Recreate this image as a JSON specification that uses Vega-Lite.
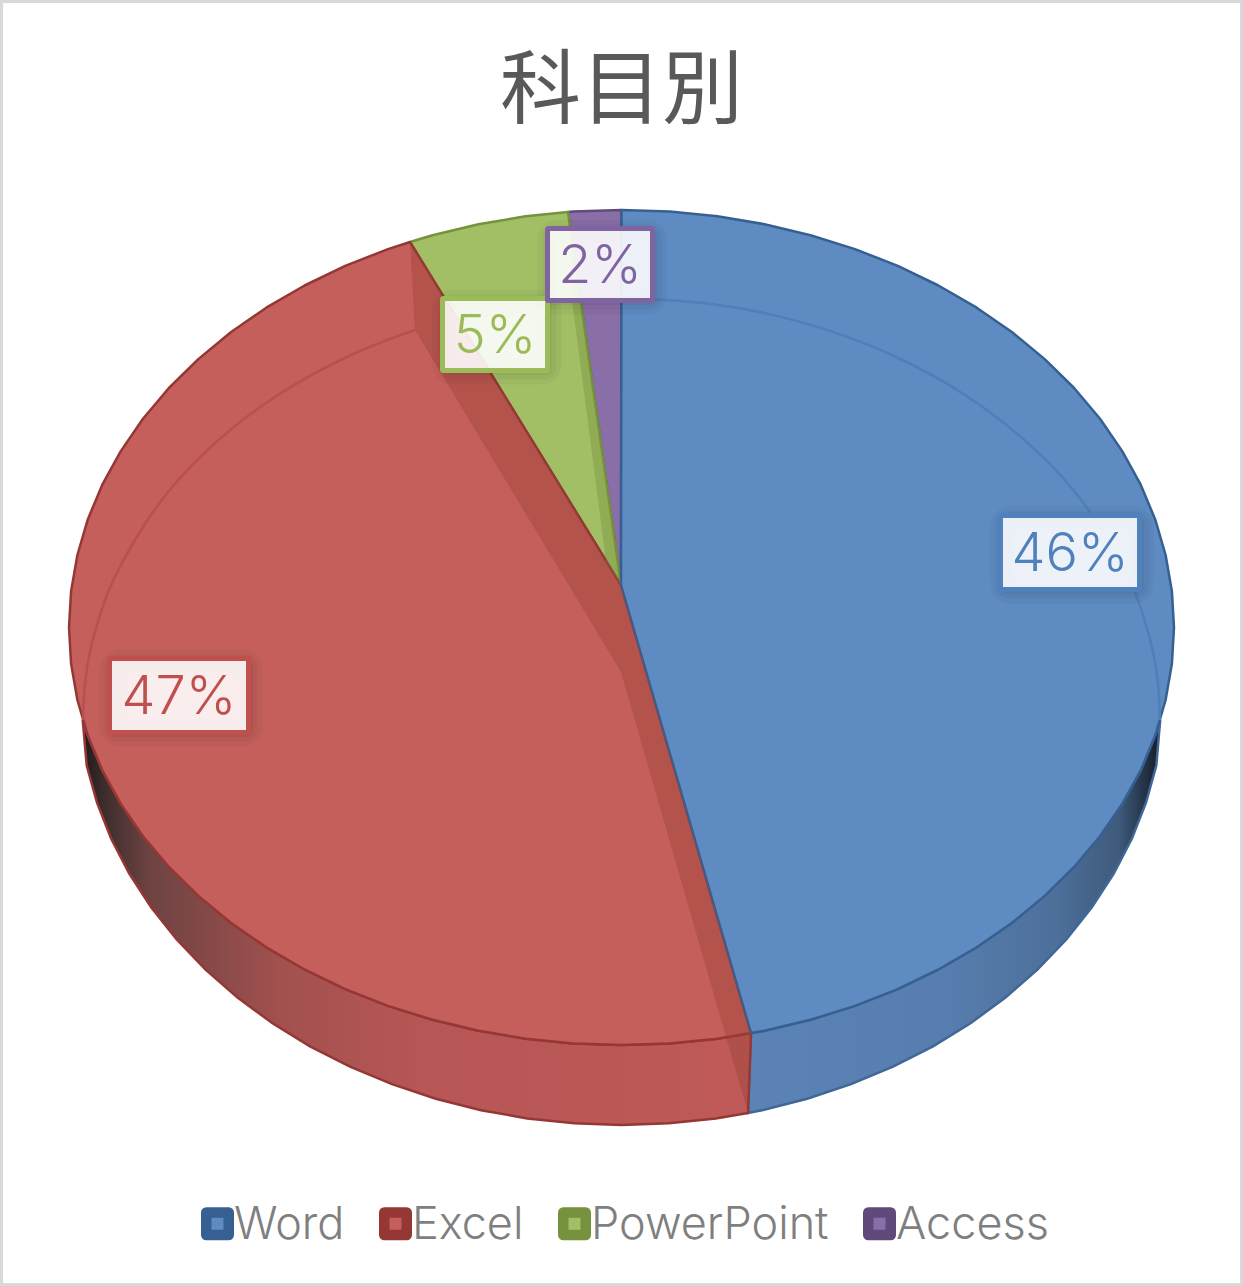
{
  "$schema": "https://vega.github.io/schema/vega-lite/v6.json",
  "width": 1243,
  "height": 1286,
  "autosize": {"type": "none"},
  "padding": 0,
  "background": "white",
  "title": {"text": "科目別", "font": "Noto Sans CJK JP", "fontSize": 81, "fontWeight": 400, "color": "#595959", "anchor": "middle", "baseline": "alphabetic", "offset": -198},
  "datasets": {
    "top": [
      {"subject":"Access","i":0,"x":621,"y":585},{"subject":"Access","i":1,"x":568,"y":212},{"subject":"Access","i":2,"x":573.3,"y":211.6},{"subject":"Access","i":3,"x":621.5,"y":210},
      {"subject":"PowerPoint","i":0,"x":621,"y":585},{"subject":"PowerPoint","i":1,"x":410,"y":242},{"subject":"PowerPoint","i":2,"x":432.5,"y":235.2},{"subject":"PowerPoint","i":3,"x":478.5,"y":224.2},{"subject":"PowerPoint","i":4,"x":525.6,"y":216.3},{"subject":"PowerPoint","i":5,"x":568,"y":212},
      {"subject":"Excel","i":0,"x":621,"y":585},{"subject":"Excel","i":1,"x":751,"y":1033},{"subject":"Excel","i":2,"x":717.4,"y":1038.7},{"subject":"Excel","i":3,"x":669.7,"y":1043.4},{"subject":"Excel","i":4,"x":621.5,"y":1045},{"subject":"Excel","i":5,"x":573.3,"y":1043.4},{"subject":"Excel","i":6,"x":525.6,"y":1038.7},{"subject":"Excel","i":7,"x":478.5,"y":1030.8},{"subject":"Excel","i":8,"x":432.5,"y":1019.8},{"subject":"Excel","i":9,"x":388,"y":1005.9},{"subject":"Excel","i":10,"x":345.2,"y":989.1},{"subject":"Excel","i":11,"x":304.6,"y":969.5},{"subject":"Excel","i":12,"x":266.3,"y":947.3},{"subject":"Excel","i":13,"x":230.8,"y":922.7},{"subject":"Excel","i":14,"x":198.3,"y":895.9},{"subject":"Excel","i":15,"x":168.9,"y":867},{"subject":"Excel","i":16,"x":143,"y":836.3},{"subject":"Excel","i":17,"x":120.8,"y":803.9},{"subject":"Excel","i":18,"x":102.3,"y":770.3},{"subject":"Excel","i":19,"x":87.8,"y":735.6},{"subject":"Excel","i":20,"x":77.4,"y":700},{"subject":"Excel","i":21,"x":71.1,"y":663.9},{"subject":"Excel","i":22,"x":69,"y":627.5},{"subject":"Excel","i":23,"x":71.1,"y":591.1},{"subject":"Excel","i":24,"x":77.4,"y":555},{"subject":"Excel","i":25,"x":87.8,"y":519.4},{"subject":"Excel","i":26,"x":102.3,"y":484.7},{"subject":"Excel","i":27,"x":120.8,"y":451.1},{"subject":"Excel","i":28,"x":143,"y":418.7},{"subject":"Excel","i":29,"x":168.9,"y":388},{"subject":"Excel","i":30,"x":198.3,"y":359.1},{"subject":"Excel","i":31,"x":230.8,"y":332.3},{"subject":"Excel","i":32,"x":266.3,"y":307.7},{"subject":"Excel","i":33,"x":304.6,"y":285.5},{"subject":"Excel","i":34,"x":345.2,"y":265.9},{"subject":"Excel","i":35,"x":388,"y":249.1},{"subject":"Excel","i":36,"x":410,"y":242},
      {"subject":"Word","i":0,"x":621,"y":585},{"subject":"Word","i":1,"x":621.5,"y":210},{"subject":"Word","i":2,"x":669.7,"y":211.6},{"subject":"Word","i":3,"x":717.4,"y":216.3},{"subject":"Word","i":4,"x":764.5,"y":224.2},{"subject":"Word","i":5,"x":810.5,"y":235.2},{"subject":"Word","i":6,"x":855,"y":249.1},{"subject":"Word","i":7,"x":897.8,"y":265.9},{"subject":"Word","i":8,"x":938.4,"y":285.5},{"subject":"Word","i":9,"x":976.7,"y":307.7},{"subject":"Word","i":10,"x":1012.2,"y":332.3},{"subject":"Word","i":11,"x":1044.7,"y":359.1},{"subject":"Word","i":12,"x":1074.1,"y":388},{"subject":"Word","i":13,"x":1100,"y":418.7},{"subject":"Word","i":14,"x":1122.2,"y":451.1},{"subject":"Word","i":15,"x":1140.7,"y":484.7},{"subject":"Word","i":16,"x":1155.2,"y":519.4},{"subject":"Word","i":17,"x":1165.6,"y":555},{"subject":"Word","i":18,"x":1171.9,"y":591.1},{"subject":"Word","i":19,"x":1174,"y":627.5},{"subject":"Word","i":20,"x":1171.9,"y":663.9},{"subject":"Word","i":21,"x":1165.6,"y":700},{"subject":"Word","i":22,"x":1155.2,"y":735.6},{"subject":"Word","i":23,"x":1140.7,"y":770.3},{"subject":"Word","i":24,"x":1122.2,"y":803.9},{"subject":"Word","i":25,"x":1100,"y":836.3},{"subject":"Word","i":26,"x":1074.1,"y":867},{"subject":"Word","i":27,"x":1044.7,"y":895.9},{"subject":"Word","i":28,"x":1012.2,"y":922.7},{"subject":"Word","i":29,"x":976.7,"y":947.3},{"subject":"Word","i":30,"x":938.4,"y":969.5},{"subject":"Word","i":31,"x":897.8,"y":989.1},{"subject":"Word","i":32,"x":855,"y":1005.9},{"subject":"Word","i":33,"x":810.5,"y":1019.8},{"subject":"Word","i":34,"x":764.5,"y":1030.8},{"subject":"Word","i":35,"x":751,"y":1033}
    ],
    "wordSide": [
      {"i":0,"x":1160.2,"y":720},{"i":1,"x":1156.3,"y":765.5},{"i":2,"x":1146,"y":802.6},{"i":3,"x":1131.8,"y":838.8},{"i":4,"x":1113.6,"y":873.8},{"i":5,"x":1091.7,"y":907.5},{"i":6,"x":1066.3,"y":939.5},{"i":7,"x":1037.4,"y":969.6},{"i":8,"x":1005.5,"y":997.6},{"i":9,"x":970.5,"y":1023.2},{"i":10,"x":933,"y":1046.4},{"i":11,"x":893,"y":1066.7},{"i":12,"x":851,"y":1084.2},{"i":13,"x":807.2,"y":1098.8},{"i":14,"x":762,"y":1110.2},{"i":15,"x":748,"y":1113},{"i":16,"x":751,"y":1033},{"i":17,"x":764.5,"y":1030.8},{"i":18,"x":810.5,"y":1019.8},{"i":19,"x":855,"y":1005.9},{"i":20,"x":897.8,"y":989.1},{"i":21,"x":938.4,"y":969.5},{"i":22,"x":976.7,"y":947.3},{"i":23,"x":1012.2,"y":922.7},{"i":24,"x":1044.7,"y":895.9},{"i":25,"x":1074.1,"y":867},{"i":26,"x":1100,"y":836.3},{"i":27,"x":1122.2,"y":803.9},{"i":28,"x":1140.7,"y":770.3},{"i":29,"x":1155.2,"y":735.6}
    ],
    "excelSide": [
      {"i":0,"x":748,"y":1113},{"i":1,"x":715.8,"y":1118.4},{"i":2,"x":668.8,"y":1123.3},{"i":3,"x":621.5,"y":1125},{"i":4,"x":574.2,"y":1123.3},{"i":5,"x":527.2,"y":1118.4},{"i":6,"x":481,"y":1110.2},{"i":7,"x":435.8,"y":1098.8},{"i":8,"x":392,"y":1084.2},{"i":9,"x":350,"y":1066.7},{"i":10,"x":310,"y":1046.4},{"i":11,"x":272.5,"y":1023.2},{"i":12,"x":237.5,"y":997.6},{"i":13,"x":205.6,"y":969.6},{"i":14,"x":176.7,"y":939.5},{"i":15,"x":151.3,"y":907.5},{"i":16,"x":129.4,"y":873.8},{"i":17,"x":111.2,"y":838.8},{"i":18,"x":97,"y":802.6},{"i":19,"x":86.7,"y":765.5},{"i":20,"x":82.7,"y":720},{"i":21,"x":87.8,"y":735.6},{"i":22,"x":102.3,"y":770.3},{"i":23,"x":120.8,"y":803.9},{"i":24,"x":143,"y":836.3},{"i":25,"x":168.9,"y":867},{"i":26,"x":198.3,"y":895.9},{"i":27,"x":230.8,"y":922.7},{"i":28,"x":266.3,"y":947.3},{"i":29,"x":304.6,"y":969.5},{"i":30,"x":345.2,"y":989.1},{"i":31,"x":388,"y":1005.9},{"i":32,"x":432.5,"y":1019.8},{"i":33,"x":478.5,"y":1030.8},{"i":34,"x":525.6,"y":1038.7},{"i":35,"x":573.3,"y":1043.4},{"i":36,"x":621.5,"y":1045},{"i":37,"x":669.7,"y":1043.4},{"i":38,"x":717.4,"y":1038.7},{"i":39,"x":751,"y":1033}
    ],
    "walls": [
      {"part":"redBack","i":0,"x":410,"y":242},{"part":"redBack","i":1,"x":415,"y":330},{"part":"redBack","i":2,"x":621,"y":672},{"part":"redBack","i":3,"x":621,"y":585},
      {"part":"redFront","i":0,"x":621,"y":585},{"part":"redFront","i":1,"x":621,"y":672},{"part":"redFront","i":2,"x":748,"y":1113},{"part":"redFront","i":3,"x":751,"y":1033},
      {"part":"green","i":0,"x":568,"y":212},{"part":"green","i":1,"x":572,"y":300},{"part":"green","i":2,"x":606,"y":561},{"part":"green","i":3,"x":621,"y":585}
    ],
    "rim": [
      {"part":"blue","i":0,"x":621.5,"y":298},{"part":"blue","i":1,"x":715,"y":304.4},{"part":"blue","i":2,"x":805.7,"y":323.4},{"part":"blue","i":3,"x":890.8,"y":354.5},{"part":"blue","i":4,"x":967.7,"y":396.7},{"part":"blue","i":5,"x":1034,"y":448.7},{"part":"blue","i":6,"x":1087.9,"y":509},{"part":"blue","i":7,"x":1127.5,"y":575.6},{"part":"blue","i":8,"x":1141.7,"y":610.8},{"part":"blue","i":9,"x":1151.9,"y":646.7},{"part":"blue","i":10,"x":1158,"y":683.2},{"part":"blue","i":11,"x":1160,"y":720},
      {"part":"red","i":0,"x":415,"y":330},{"part":"red","i":1,"x":352.2,"y":354.5},{"part":"red","i":2,"x":275.3,"y":396.7},{"part":"red","i":3,"x":209,"y":448.7},{"part":"red","i":4,"x":155.1,"y":509},{"part":"red","i":5,"x":115.5,"y":575.6},{"part":"red","i":6,"x":101.3,"y":610.8},{"part":"red","i":7,"x":91.1,"y":646.7},{"part":"red","i":8,"x":85,"y":683.2},{"part":"red","i":9,"x":83,"y":720}
    ],
    "labels": [
      {"subject":"Word","label":"46%","x":1070,"y":553,"x0":1000.5,"x1":1139.5,"y0":515.5,"y1":589.5},
      {"subject":"Excel","label":"47%","x":179,"y":696,"x0":109.5,"x1":248.5,"y0":658.5,"y1":732.5},
      {"subject":"PowerPoint","label":"5%","x":495,"y":335,"x0":442.5,"x1":547.5,"y0":298.5,"y1":370.5},
      {"subject":"Access","label":"2%","x":600,"y":265,"x0":547.5,"x1":652.5,"y0":228.5,"y1":300.5}
    ]
  },
  "encoding": {
    "x": {"field": "x", "type": "quantitative", "scale": {"domain": [0, 1243], "nice": false, "zero": false}, "axis": null},
    "y": {"field": "y", "type": "quantitative", "scale": {"domain": [1286, 0], "nice": false, "zero": false}, "axis": null}
  },
  "layer": [
    {
      "data": {"name": "wordSide"},
      "mark": {"type": "line", "interpolate": "linear-closed", "stroke": "#3f6797", "strokeWidth": 2.5,
        "fill": {"gradient": "linear", "x1": 0, "x2": 1, "y1": 0, "y2": 0, "stops": [
          {"offset": 0, "color": "#5b83b6"}, {"offset": 0.5, "color": "#567dad"}, {"offset": 0.75, "color": "#4d6f9a"}, {"offset": 0.9, "color": "#3e5a7c"}, {"offset": 1, "color": "#141c26"}]}},
      "encoding": {"order": {"field": "i", "type": "quantitative"}}
    },
    {
      "data": {"name": "excelSide"},
      "mark": {"type": "line", "interpolate": "linear-closed", "stroke": "#953735", "strokeWidth": 2.5,
        "fill": {"gradient": "linear", "x1": 0, "x2": 1, "y1": 0, "y2": 0, "stops": [
          {"offset": 0, "color": "#1e1a1a"}, {"offset": 0.03, "color": "#3c2c2c"}, {"offset": 0.1, "color": "#6d4342"}, {"offset": 0.3, "color": "#a3514f"}, {"offset": 0.5, "color": "#b65655"}, {"offset": 1, "color": "#bf5a58"}]}},
      "encoding": {"order": {"field": "i", "type": "quantitative"}}
    },
    {
      "data": {"name": "top"},
      "mark": {"type": "line", "interpolate": "linear-closed", "strokeWidth": 2.5, "strokeJoin": "round"},
      "encoding": {
        "order": {"field": "i", "type": "quantitative"},
        "fill": {"field": "subject", "type": "nominal", "scale": {"domain": ["Word", "Excel", "PowerPoint", "Access"], "range": ["#5e8bc2", "#c45f5b", "#a2bf66", "#8a6ea8"]},
          "legend": {"title": null, "orient": "none", "legendX": 195, "legendY": 1201, "direction": "horizontal", "columns": 4, "columnPadding": 28, "symbolType": "square", "symbolSize": 506, "symbolStrokeWidth": 10.5, "symbolOpacity": 1, "labelFont": "Inter", "labelFontWeight": 300, "labelFontSize": 45, "labelColor": "#7f7f7f", "labelOffset": -6, "labelLimit": 400,
            "encode": {"symbols": {"update": {"strokeJoin": {"value": "round"}}}, "labels": {"update": {"dy": {"value": 1}}}}}},
        "stroke": {"field": "subject", "type": "nominal", "scale": {"domain": ["Word", "Excel", "PowerPoint", "Access"], "range": ["#376092", "#953735", "#76923c", "#604a7b"]},
          "legend": {"title": null, "orient": "none", "legendX": 195, "legendY": 1201, "direction": "horizontal", "columns": 4, "columnPadding": 28, "symbolType": "square", "symbolSize": 506, "symbolStrokeWidth": 10.5, "symbolOpacity": 1, "labelFont": "Inter", "labelFontWeight": 300, "labelFontSize": 45, "labelColor": "#7f7f7f", "labelOffset": -6, "labelLimit": 400,
            "encode": {"symbols": {"update": {"strokeJoin": {"value": "round"}}}, "labels": {"update": {"dy": {"value": 1}}}}}}
      }
    },
    {
      "data": {"name": "walls"},
      "mark": {"type": "line", "interpolate": "linear-closed", "strokeWidth": 0, "fillOpacity": 0.4, "fill": "#9c4236"},
      "transform": [{"filter": "datum.part !== 'green'"}],
      "encoding": {"order": {"field": "i", "type": "quantitative"}, "detail": {"field": "part"}}
    },
    {
      "data": {"name": "walls"},
      "mark": {"type": "line", "interpolate": "linear-closed", "strokeWidth": 0, "fillOpacity": 0.4, "fill": "#76923c"},
      "transform": [{"filter": "datum.part === 'green'"}],
      "encoding": {"order": {"field": "i", "type": "quantitative"}}
    },
    {
      "data": {"name": "rim"},
      "mark": {"type": "line", "interpolate": "natural", "strokeWidth": 2.5, "stroke": "#4f7fb8"},
      "transform": [{"filter": "datum.part === 'blue'"}],
      "encoding": {"order": {"field": "i", "type": "quantitative"}}
    },
    {
      "data": {"name": "rim"},
      "mark": {"type": "line", "interpolate": "natural", "strokeWidth": 2.5, "stroke": "#bb4f4d"},
      "transform": [{"filter": "datum.part === 'red'"}],
      "encoding": {"order": {"field": "i", "type": "quantitative"}}
    },
    {
      "data": {"name": "labels"},
      "mark": {"type": "rect", "xOffset": 4, "yOffset": 5, "fill": null, "stroke": "#000000", "strokeOpacity": 0.03, "strokeWidth": 28, "cornerRadius": 6},
      "encoding": {
        "x": {"field": "x0", "type": "quantitative"}, "x2": {"field": "x1"},
        "y": {"field": "y0", "type": "quantitative"}, "y2": {"field": "y1"}
      }
    },
    {
      "data": {"name": "labels"},
      "mark": {"type": "rect", "xOffset": 4, "yOffset": 5, "fill": null, "stroke": "#000000", "strokeOpacity": 0.035, "strokeWidth": 18, "cornerRadius": 4},
      "encoding": {
        "x": {"field": "x0", "type": "quantitative"}, "x2": {"field": "x1"},
        "y": {"field": "y0", "type": "quantitative"}, "y2": {"field": "y1"}
      }
    },
    {
      "data": {"name": "labels"},
      "mark": {"type": "rect", "xOffset": 4, "yOffset": 5, "fill": null, "stroke": "#000000", "strokeOpacity": 0.04, "strokeWidth": 9, "cornerRadius": 2},
      "encoding": {
        "x": {"field": "x0", "type": "quantitative"}, "x2": {"field": "x1"},
        "y": {"field": "y0", "type": "quantitative"}, "y2": {"field": "y1"}
      }
    },
    {
      "data": {"name": "labels"},
      "mark": {"type": "rect", "fill": "#ffffff", "fillOpacity": 0.89, "strokeWidth": 5, "cornerRadius": 1},
      "encoding": {
        "x": {"field": "x0", "type": "quantitative"}, "x2": {"field": "x1"},
        "y": {"field": "y0", "type": "quantitative"}, "y2": {"field": "y1"},
        "stroke": {"condition": [
          {"test": "datum.subject === 'Word'", "value": "#4f81bd"},
          {"test": "datum.subject === 'Excel'", "value": "#c0504d"},
          {"test": "datum.subject === 'PowerPoint'", "value": "#9bbb59"}], "value": "#8064a2"}
      }
    },
    {
      "data": {"name": "labels"},
      "mark": {"type": "text", "font": "Inter", "fontWeight": 300, "fontSize": 54, "align": "center", "baseline": "middle", "dy": 2},
      "encoding": {
        "text": {"field": "label"},
        "fill": {"condition": [
          {"test": "datum.subject === 'Word'", "value": "#4f81bd"},
          {"test": "datum.subject === 'Excel'", "value": "#c0504d"},
          {"test": "datum.subject === 'PowerPoint'", "value": "#9bbb59"}], "value": "#8064a2"}
      }
    }
  ],
  "config": {"view": {"stroke": "#d9d9d9", "strokeWidth": 6, "fill": "white"}}
}
